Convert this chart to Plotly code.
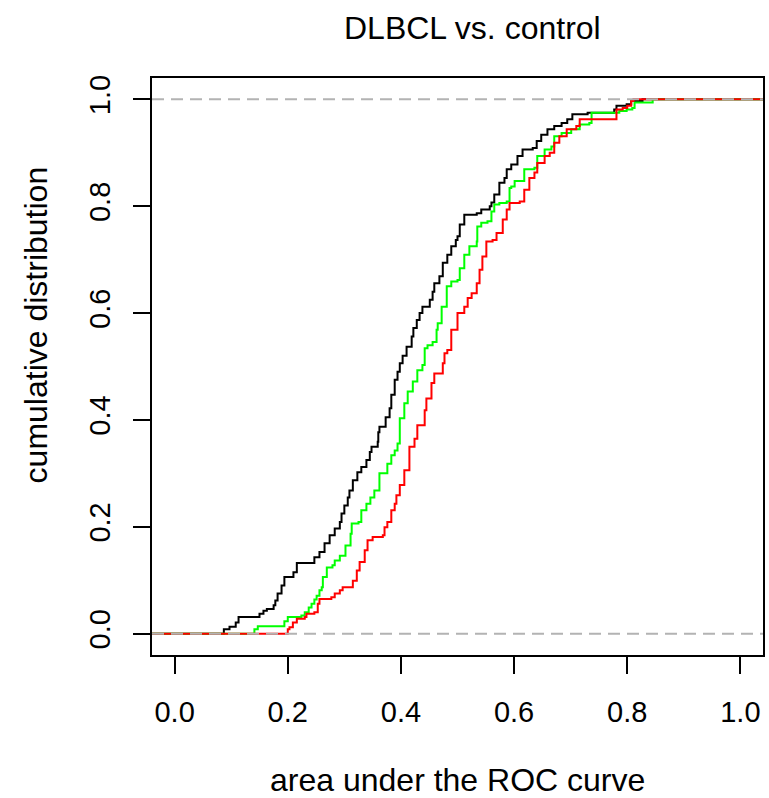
import plotly.graph_objects as go

# ECDF step knots: AUC value where the step occurs, and the new cumulative level
black_x = [0.087, 0.097, 0.108, 0.113, 0.150, 0.157, 0.163, 0.175, 0.178, 0.182, 0.189, 0.194, 0.210, 0.216,
           0.247, 0.256, 0.265, 0.274, 0.283, 0.292, 0.295, 0.300, 0.306, 0.309, 0.315, 0.323, 0.330, 0.339,
           0.345, 0.348, 0.359, 0.360, 0.362, 0.373, 0.380, 0.383, 0.389, 0.394, 0.398, 0.403, 0.410, 0.419,
           0.422, 0.428, 0.433, 0.438, 0.451, 0.456, 0.459, 0.468, 0.474, 0.482, 0.489, 0.497, 0.500, 0.504,
           0.512, 0.534, 0.542, 0.557, 0.560, 0.565, 0.574, 0.583, 0.587, 0.595, 0.606, 0.615, 0.633, 0.640,
           0.648, 0.659, 0.671, 0.684, 0.694, 0.703, 0.730, 0.777, 0.781, 0.799, 0.807, 0.827]
black_y = [0.008, 0.013, 0.021, 0.031, 0.037, 0.043, 0.046, 0.053, 0.062, 0.075, 0.090, 0.106, 0.115, 0.132,
           0.143, 0.153, 0.169, 0.184, 0.197, 0.209, 0.225, 0.240, 0.255, 0.268, 0.287, 0.302, 0.312, 0.325,
           0.340, 0.350, 0.359, 0.377, 0.387, 0.405, 0.422, 0.447, 0.475, 0.490, 0.506, 0.520, 0.537, 0.556,
           0.572, 0.587, 0.600, 0.612, 0.625, 0.640, 0.656, 0.669, 0.694, 0.709, 0.725, 0.737, 0.744, 0.766,
           0.784, 0.787, 0.794, 0.800, 0.807, 0.822, 0.844, 0.853, 0.869, 0.878, 0.894, 0.906, 0.909, 0.922,
           0.934, 0.944, 0.950, 0.956, 0.963, 0.972, 0.975, 0.981, 0.988, 0.991, 0.997, 1.000]

green_x = [0.141, 0.147, 0.194, 0.200, 0.224, 0.230, 0.237, 0.242, 0.247, 0.251, 0.256, 0.260, 0.262, 0.269,
           0.279, 0.283, 0.292, 0.302, 0.311, 0.313, 0.325, 0.330, 0.339, 0.346, 0.353, 0.362, 0.376, 0.383,
           0.389, 0.394, 0.398, 0.406, 0.412, 0.421, 0.429, 0.438, 0.442, 0.447, 0.456, 0.463, 0.465, 0.472,
           0.481, 0.489, 0.500, 0.504, 0.512, 0.521, 0.534, 0.535, 0.542, 0.553, 0.560, 0.565, 0.574, 0.587,
           0.592, 0.595, 0.601, 0.618, 0.636, 0.641, 0.654, 0.666, 0.671, 0.684, 0.701, 0.716, 0.733, 0.737,
           0.786, 0.799, 0.809, 0.813, 0.845]
green_y = [0.008, 0.014, 0.023, 0.031, 0.034, 0.040, 0.049, 0.056, 0.064, 0.071, 0.081, 0.087, 0.106, 0.124,
           0.128, 0.137, 0.146, 0.165, 0.187, 0.206, 0.209, 0.231, 0.243, 0.255, 0.268, 0.300, 0.318, 0.334,
           0.343, 0.356, 0.403, 0.431, 0.453, 0.472, 0.493, 0.503, 0.534, 0.540, 0.546, 0.569, 0.581, 0.612,
           0.650, 0.659, 0.662, 0.684, 0.709, 0.725, 0.734, 0.762, 0.769, 0.772, 0.790, 0.803, 0.806, 0.809,
           0.834, 0.837, 0.847, 0.869, 0.872, 0.894, 0.906, 0.912, 0.931, 0.937, 0.944, 0.953, 0.956, 0.975,
           0.978, 0.981, 0.984, 0.994, 1.000]

red_x = [0.200, 0.203, 0.209, 0.216, 0.230, 0.233, 0.247, 0.253, 0.256, 0.277, 0.283, 0.292, 0.297, 0.315,
         0.322, 0.327, 0.336, 0.341, 0.350, 0.368, 0.371, 0.376, 0.383, 0.389, 0.392, 0.398, 0.406, 0.415,
         0.424, 0.429, 0.442, 0.445, 0.454, 0.459, 0.474, 0.477, 0.482, 0.489, 0.500, 0.512, 0.518, 0.525,
         0.534, 0.539, 0.544, 0.551, 0.562, 0.569, 0.580, 0.587, 0.592, 0.610, 0.618, 0.627, 0.636, 0.641,
         0.654, 0.663, 0.671, 0.680, 0.693, 0.710, 0.716, 0.781, 0.792, 0.800, 0.807, 0.811]
red_y = [0.008, 0.012, 0.021, 0.028, 0.031, 0.037, 0.040, 0.056, 0.065, 0.068, 0.075, 0.081, 0.087, 0.099,
         0.118, 0.134, 0.156, 0.175, 0.181, 0.184, 0.199, 0.209, 0.231, 0.243, 0.259, 0.278, 0.306, 0.350,
         0.365, 0.390, 0.418, 0.440, 0.469, 0.487, 0.506, 0.525, 0.531, 0.569, 0.600, 0.612, 0.628, 0.637,
         0.656, 0.681, 0.706, 0.734, 0.737, 0.750, 0.775, 0.794, 0.806, 0.809, 0.831, 0.853, 0.863, 0.881,
         0.894, 0.900, 0.919, 0.931, 0.944, 0.950, 0.963, 0.981, 0.984, 0.988, 0.997, 1.000]

series = [("black", black_x, black_y), ("#00FF00", green_x, green_y), ("#FF0000", red_x, red_y)]

tick_vals = [0.0, 0.2, 0.4, 0.6, 0.8, 1.0]
tick_text = ["0.0", "0.2", "0.4", "0.6", "0.8", "1.0"]
x_lim = [-0.04, 1.04]
y_lim = [-0.04, 1.04]

title_text = "DLBCL vs. control"
x_label = "area under the ROC curve"
y_label = "cumulative distribution"

FONT = "Liberation Sans, Arial, Helvetica, sans-serif"

fig = go.Figure()
for color, xs, ys in series:
    fx = [x_lim[0]] + list(xs) + [x_lim[1]]
    fy = [0.0] + list(ys) + [1.0]
    fig.add_trace(go.Scatter(x=fx, y=fy, mode="lines", line=dict(color=color, width=2, shape="hv"),
                             showlegend=False, hoverinfo="skip"))

for level in (0.0, 1.0):
    fig.add_shape(type="line", xref="paper", x0=0, x1=1, yref="y", y0=level, y1=level,
                  line=dict(color="#B3B3B3", width=2, dash="12px,7px"), layer="above")

axis_common = dict(showgrid=False, zeroline=False, showline=True, mirror=True, linecolor="black",
                   linewidth=2, ticks="outside", ticklen=17, tickwidth=1.5, tickcolor="black",
                   tickvals=tick_vals, ticktext=tick_text,
                   tickfont=dict(family=FONT, size=29, color="black"))

fig.update_layout(
    width=769, height=798, autosize=False,
    margin=dict(l=152, r=4, t=78, b=143, pad=0),
    paper_bgcolor="white", plot_bgcolor="white",
    xaxis=dict(range=x_lim, ticklabelstandoff=13, **axis_common),
    yaxis=dict(range=y_lim, tickangle=-90, ticklabelstandoff=11, **axis_common),
    annotations=[
        dict(text=title_text, xref="paper", yref="paper", x=(474 - 152) / 613, y=(655 - 28) / 577,
             xanchor="center", yanchor="middle", showarrow=False,
             font=dict(family=FONT, size=32, color="black")),
        dict(text=x_label, xref="paper", yref="paper", x=0.5, y=(655 - 780) / 577,
             xanchor="center", yanchor="middle", showarrow=False,
             font=dict(family=FONT, size=32, color="black")),
        dict(text=y_label, xref="paper", yref="paper", x=(36 - 152) / 613, y=(655 - 325) / 577,
             xanchor="center", yanchor="middle", showarrow=False, textangle=-90,
             font=dict(family=FONT, size=32, color="black")),
    ],
)

fig.write_html("out.html")
